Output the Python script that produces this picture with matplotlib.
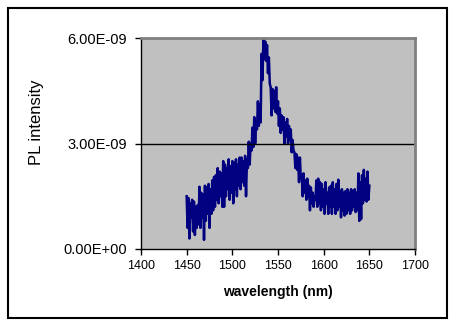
import numpy as np
import matplotlib.pyplot as plt
from matplotlib.patches import Rectangle

plt.rcParams['font.family'] = ['Liberation Sans', 'DejaVu Sans']

# wavelength (nm), 1 nm steps from 1450 to 1650
wavelength = np.arange(1450, 1651, 1)

# PL intensity, in units of 1e-9
pl_1e9 = [
    1.5, 0.6, 1.45, 0.3, 1.3, 0.9, 1.4, 0.5, 1.35, 0.4,
    1.2, 0.6, 1.25, 0.7, 1.77, 0.6, 1.6, 0.9, 1.55, 0.26,
    1.8, 0.8, 1.75, 1.0, 1.85, 0.6, 1.7, 1.0, 1.95, 1.1,
    2.05, 1.2, 2.1, 1.4, 2.3, 1.3, 2.2, 1.5, 2.15, 1.2,
    2.5, 1.2, 2.4, 1.5, 2.3, 1.7, 2.55, 1.4, 2.35, 1.6,
    2.5, 1.3, 2.45, 1.7, 2.55, 1.5, 2.4, 1.8, 2.6, 1.7,
    2.6, 1.9, 2.5, 1.8, 2.65, 1.5, 2.55, 2.3, 3.05, 2.4,
    3.0, 2.8, 3.45, 2.9, 3.75, 3.0, 3.6, 3.4, 4.2, 3.5,
    4.1, 3.6, 5.55, 4.8, 5.97, 5.4, 5.9, 5.35, 5.8, 5.0,
    5.45, 4.7, 4.6, 3.8, 4.55, 4.0, 4.5, 3.9, 4.6, 3.85,
    4.2, 3.5, 4.0, 3.3, 3.8, 3.4, 3.75, 3.0, 3.6, 3.2,
    3.7, 3.0, 3.5, 3.1, 3.4, 2.75, 3.1, 2.8, 2.75, 2.3,
    2.7, 2.25, 2.6, 1.9, 2.6, 2.0, 2.1, 1.5, 2.15, 1.6,
    1.95, 1.4, 2.0, 1.5, 1.8, 1.1, 1.75, 1.3, 1.6, 1.2,
    1.5, 1.4, 1.95, 1.2, 2.0, 1.3, 1.9, 1.1, 1.85, 1.2,
    1.7, 1.0, 1.9, 1.3, 1.6, 1.0, 1.75, 1.2, 1.8, 1.0,
    1.9, 1.2, 1.7, 1.0, 1.85, 1.1, 1.97, 1.2, 1.65, 0.9,
    1.7, 1.1, 1.6, 0.95, 1.65, 1.0, 1.7, 1.1, 1.6, 1.0,
    1.7, 1.1, 1.65, 1.2, 1.7, 1.05, 1.6, 1.1, 2.15, 0.8,
    1.9, 0.85, 2.1, 1.3, 2.25, 1.4, 2.0, 1.35, 2.2, 1.4,
    1.8,
]
intensity = np.array(pl_1e9) * 1e-9

x_ticks = [1400, 1450, 1500, 1550, 1600, 1650, 1700]
y_ticks = [0, 3e-9, 6e-9]
y_labels = ['0.00E+00', '3.00E-09', '6.00E-09']

fig = plt.figure(figsize=(4.55, 3.25), dpi=100)
fig.patch.set_facecolor('white')
# black frame round the whole chart
fig.patches.append(Rectangle((8 / 455, 1 - 318 / 325), 439 / 455, 310 / 325,
                             transform=fig.transFigure, fill=False,
                             edgecolor='black', linewidth=1.5))

ax = fig.add_axes([141 / 455, 1 - 249 / 325, 274 / 455, 211 / 325])
ax.set_facecolor('#c0c0c0')
ax.plot(wavelength, intensity, color='#000080', linewidth=1.8)

ax.set_xlim(1400, 1700)
ax.set_ylim(0, 6e-9)
ax.set_xticks(x_ticks)
ax.set_xticklabels([str(t) for t in x_ticks], fontsize=9)
ax.set_yticks(y_ticks)
ax.set_yticklabels(y_labels, fontsize=10.5)
ax.tick_params(axis='x', direction='out', length=4, width=1, pad=4)
ax.tick_params(axis='y', direction='out', length=4, width=1, pad=6)
ax.axhline(3e-9, color='black', linewidth=1)

for side in ['top', 'right']:
    ax.spines[side].set_color('#808080')
    ax.spines[side].set_linewidth(2)
ax.spines['left'].set_linewidth(1)
ax.spines['bottom'].set_linewidth(1)

ax.set_xlabel('wavelength (nm)', fontsize=10, fontweight='bold', va='center')
ax.xaxis.set_label_coords(0.5, -0.204)
ax.set_ylabel('PL intensity', fontsize=12, va='center')
ax.yaxis.set_label_coords(-0.38, 0.60)

fig.savefig('out.png', dpi=100)
